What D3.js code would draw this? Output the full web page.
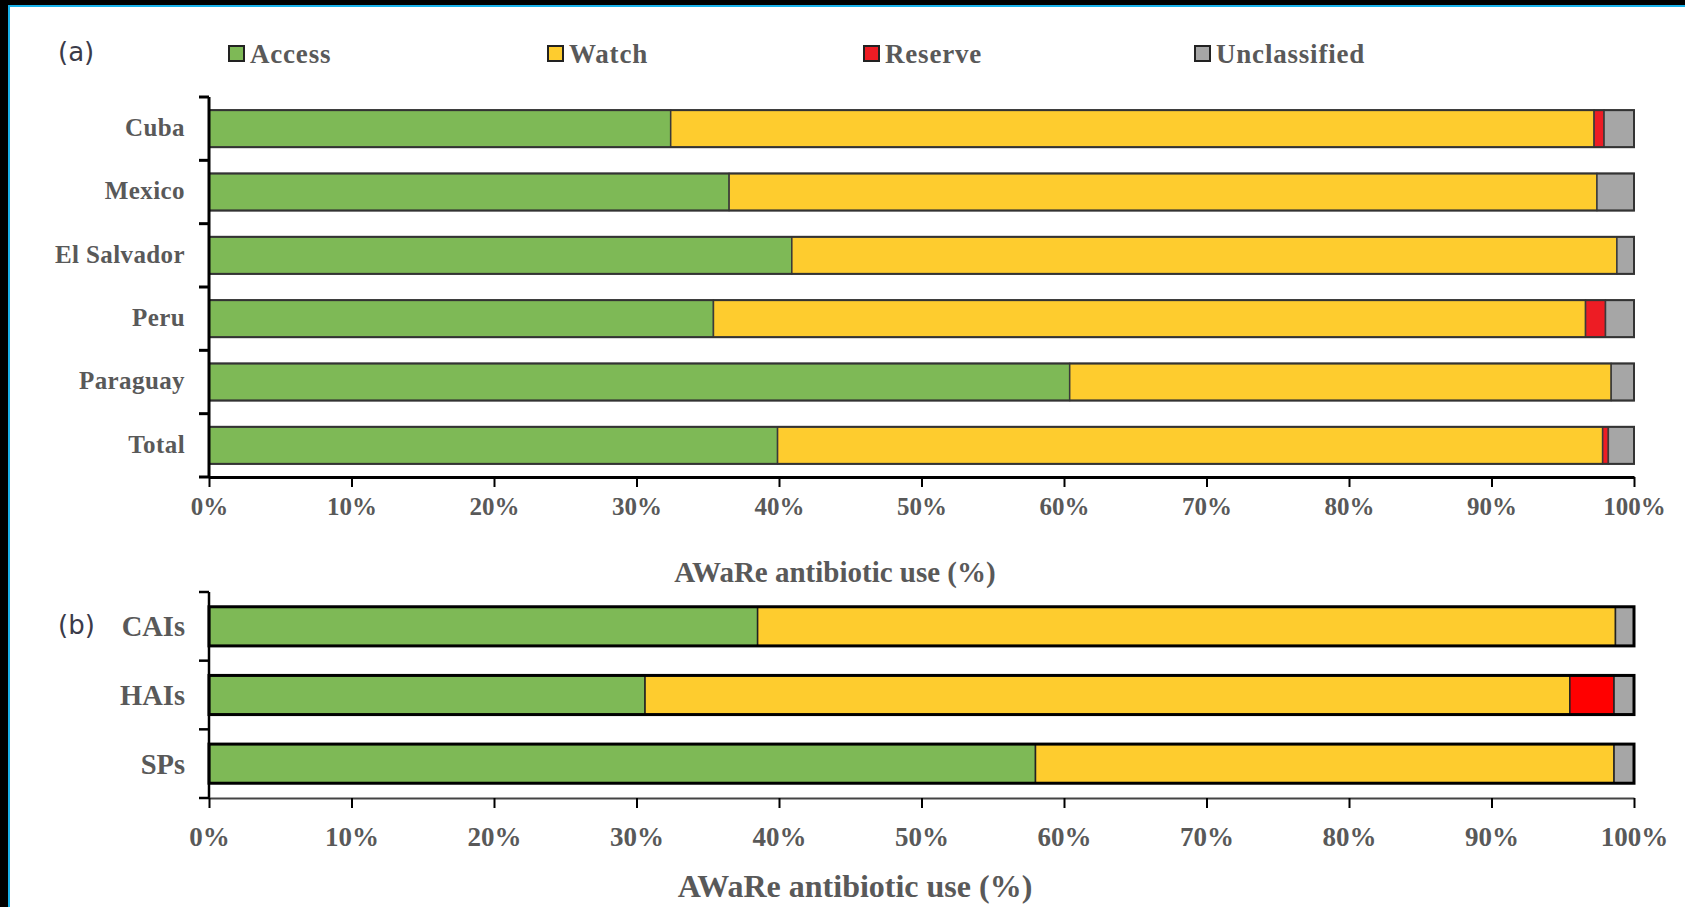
<!DOCTYPE html>
<html>
<head>
<meta charset="utf-8">
<script src="https://cdn.jsdelivr.net/npm/d3@7"></script>
<style>
html,body{margin:0;padding:0;background:#fff;}
svg{display:block;}
</style>
</head>
<body>
<svg id="chart" width="1685" height="907"></svg>
<script>
// ---------- data ----------
const seriesNames = ["Access", "Watch", "Reserve", "Unclassified"];
const seriesColorsA = ["#7EB956", "#FECC2E", "#ED1C24", "#A6A6A6"];
const seriesColorsB = ["#7EB956", "#FECC2E", "#FF0000", "#A6A6A6"];

const categoriesA = ["Cuba", "Mexico", "El Salvador", "Peru", "Paraguay", "Total"];
const accessA       = [32.4, 36.5, 40.9, 35.4, 60.4, 39.9];
const watchA        = [64.8, 60.9, 57.9, 61.2, 38.0, 57.9];
const reserveA      = [0.7, 0, 0, 1.4, 0, 0.4];
const unclassifiedA = [2.1, 2.6, 1.2, 2.0, 1.6, 1.8];

const categoriesB = ["CAIs", "HAIs", "SPs"];
const accessB       = [38.5, 30.6, 58.0];
const watchB        = [60.2, 64.9, 40.6];
const reserveB      = [0, 3.1, 0];
const unclassifiedB = [1.3, 1.4, 1.4];

const tickValues = [0, 10, 20, 30, 40, 50, 60, 70, 80, 90, 100];
const axisTitle = "AWaRe antibiotic use (%)";
const panelLabels = ["(a)", "(b)"];

// ---------- setup ----------
const svg = d3.select("#chart");
const W = 1685, H = 907;
const serif = "'Liberation Serif', 'Times New Roman', serif";
const textCol = "#595959";

// frame
svg.append("rect").attr("x", 0).attr("y", 0).attr("width", W).attr("height", H).attr("fill", "#fff");
svg.append("rect").attr("x", 0).attr("y", 0).attr("width", W).attr("height", 5).attr("fill", "#000");
svg.append("rect").attr("x", 0).attr("y", 0).attr("width", 8).attr("height", H).attr("fill", "#000");
svg.append("rect").attr("x", 8).attr("y", 5).attr("width", W - 8).attr("height", 2).attr("fill", "#19B2EA");
svg.append("rect").attr("x", 8).attr("y", 5).attr("width", 2).attr("height", H - 5).attr("fill", "#19B2EA");

const x = d3.scaleLinear().domain([0, 100]).range([209, 1634]);

function buildRows(cats, a, w, r, u) {
  return cats.map((c, i) => ({cat: c, Access: a[i], Watch: w[i], Reserve: r[i], Unclassified: u[i]}));
}

function drawPanel(opt) {
  const rows = buildRows(opt.cats, opt.a, opt.w, opt.r, opt.u);
  const y = d3.scaleBand().domain(opt.cats).range([opt.y0, opt.y1])
    .paddingInner(opt.pad).paddingOuter(opt.pad / 2);
  const stack = d3.stack().keys(seriesNames)(rows);
  const g = svg.append("g");

  stack.forEach((layer, k) => {
    g.append("g").selectAll("rect")
      .data(layer.filter(d => d[1] - d[0] > 0))
      .join("rect")
      .attr("x", d => x(d[0]))
      .attr("y", d => y(d.data.cat))
      .attr("width", d => x(d[1]) - x(d[0]))
      .attr("height", y.bandwidth())
      .attr("fill", opt.colors[k])
      .attr("stroke", opt.segStroke)
      .attr("stroke-width", opt.segWidth);
  });
  // outline of each bar
  g.append("g").selectAll("rect").data(rows).join("rect")
    .attr("x", x(0)).attr("y", d => y(d.cat))
    .attr("width", x(100) - x(0)).attr("height", y.bandwidth())
    .attr("fill", "none").attr("stroke", opt.outStroke).attr("stroke-width", opt.outWidth);

  // y axis line + boundary ticks
  const step = y.step();
  g.append("line").attr("x1", x(0)).attr("x2", x(0)).attr("y1", opt.y0).attr("y2", opt.y1 + 1)
    .attr("stroke", "#000").attr("stroke-width", opt.yAxisWidth);
  d3.range(opt.cats.length + 1).forEach(i => {
    g.append("line").attr("x1", x(0) - 10).attr("x2", x(0))
      .attr("y1", opt.y0 + i * step).attr("y2", opt.y0 + i * step)
      .attr("stroke", "#000").attr("stroke-width", opt.yAxisWidth);
  });
  // category labels
  g.append("g").selectAll("text").data(opt.cats).join("text")
    .attr("x", 185).attr("y", d => y(d) + y.bandwidth() / 2 + opt.catShift)
    .attr("dy", "0.35em").attr("text-anchor", "end")
    .attr("font-family", serif).attr("font-weight", "bold")
    .attr("font-size", opt.catSize).attr("fill", textCol)
    .attr("letter-spacing", opt.catSpacing)
    .text(d => d);

  // x axis
  const ax = g.append("g").attr("transform", `translate(0,${opt.y1})`)
    .call(d3.axisBottom(x).tickValues(tickValues).tickFormat(d => d + "%")
      .tickSize(10).tickSizeOuter(0).tickPadding(opt.tickPad));
  ax.select(".domain").attr("stroke", opt.xAxisCol).attr("stroke-width", opt.xAxisWidth);
  ax.selectAll(".tick line").attr("stroke", "#000").attr("stroke-width", 2);
  ax.selectAll(".tick text").attr("font-family", serif).attr("font-weight", "bold")
    .attr("font-size", opt.tickSize).attr("fill", textCol);

  // axis title
  g.append("text").attr("x", opt.titleX).attr("y", opt.titleY).attr("text-anchor", "middle")
    .attr("font-family", serif).attr("font-weight", "bold").attr("font-size", opt.titleSize)
    .attr("fill", textCol).text(axisTitle);

  // panel label
  g.append("text").attr("x", 58).attr("y", opt.labelY)
    .attr("font-family", "'DejaVu Sans', 'Open Sans', sans-serif").attr("font-size", 26)
    .attr("fill", "#3b3b4a").text(opt.label);
}

drawPanel({
  cats: categoriesA, a: accessA, w: watchA, r: reserveA, u: unclassifiedA,
  y0: 97, y1: 477, pad: 0.415, colors: seriesColorsA,
  segStroke: "#3a3a3a", segWidth: 1.5, outStroke: "#333", outWidth: 2,
  yAxisWidth: 3, xAxisCol: "#000", xAxisWidth: 3,
  catSize: 25, catSpacing: 0.4, catShift: -1.5, tickSize: 25, tickPad: 10,
  titleX: 835, titleY: 582, titleSize: 29,
  label: panelLabels[0], labelY: 61
});

drawPanel({
  cats: categoriesB, a: accessB, w: watchB, r: reserveB, u: unclassifiedB,
  y0: 592, y1: 798, pad: 0.43, colors: seriesColorsB,
  segStroke: "#222", segWidth: 1.5, outStroke: "#000", outWidth: 3,
  yAxisWidth: 2.5, xAxisCol: "#444", xAxisWidth: 2,
  catSize: 28.5, catSpacing: 0, catShift: 0, tickSize: 27, tickPad: 19,
  titleX: 855, titleY: 897, titleSize: 32,
  label: panelLabels[1], labelY: 634
});

// legend
const legendX = [229, 548, 864, 1195];
const lg = svg.append("g");
seriesNames.forEach((s, i) => {
  lg.append("rect").attr("x", legendX[i]).attr("y", 46).attr("width", 15).attr("height", 15)
    .attr("fill", seriesColorsA[i]).attr("stroke", "#222").attr("stroke-width", 2);
  lg.append("text").attr("x", legendX[i] + 21).attr("y", 63)
    .attr("font-family", serif).attr("font-weight", "bold").attr("font-size", 27)
    .attr("letter-spacing", 0.8)
    .attr("fill", textCol).text(s);
});
</script>
</body>
</html>
